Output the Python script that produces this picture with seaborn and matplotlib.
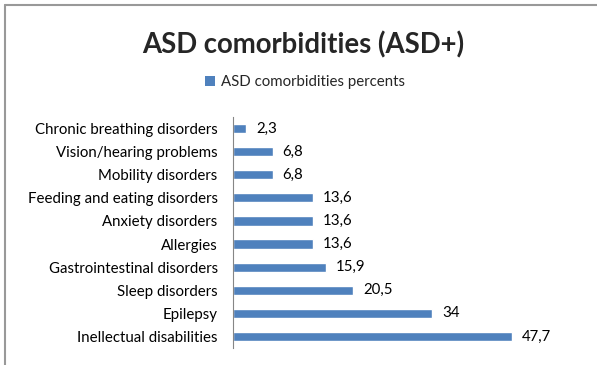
import matplotlib
matplotlib.use("Agg")
import matplotlib.pyplot as plt
import seaborn as sns
import pandas as pd
from matplotlib.lines import Line2D
from matplotlib.patches import Patch

categories = ["Chronic breathing disorders", "Vision/hearing problems", "Mobility disorders",
              "Feeding and eating disorders", "Anxiety disorders", "Allergies",
              "Gastrointestinal disorders", "Sleep disorders", "Epilepsy",
              "Inellectual disabilities"]
values = [2.3, 6.8, 6.8, 13.6, 13.6, 13.6, 15.9, 20.5, 34, 47.7]
value_labels = ["2,3", "6,8", "6,8", "13,6", "13,6", "13,6", "15,9", "20,5", "34", "47,7"]
series_name = "ASD comorbidities percents"
title = "ASD comorbidities (ASD+)"

sns.set_style("white")
plt.rcParams['font.family'] = ['Lato', 'DejaVu Sans']

df = pd.DataFrame({"cat": categories, "val": values})

fig = plt.figure(figsize=(5.97, 3.65), dpi=100)
ax = fig.add_axes([233/597, 1-348/365, (584-233)/597, (348-117)/365])
color = "#4F81BD"
sns.barplot(data=df, y="cat", x="val", orient="h", color=color, width=0.4,
            ax=ax, saturation=1)
ax.set_xlim(0, 60)
ax.set_ylim(len(categories)-0.5, -0.5)
ax.set_xlabel("")
ax.set_ylabel("")
ax.set_xticks([])
for s in ["top", "right", "bottom"]:
    ax.spines[s].set_visible(False)
ax.spines["left"].set_color("#868686")
ax.spines["left"].set_linewidth(0.8)
ax.tick_params(axis="y", length=0, pad=11, labelsize=10.85, labelcolor="#000000")

for p, lab in zip(ax.patches, value_labels):
    w = p.get_width()
    y = p.get_y() + p.get_height()/2
    ax.text(w + 1.7, y, lab, va="center", ha="left", fontsize=10.85, color="#000000")

fig.text(303/597, 1-45/365, title, ha="center", va="center", fontsize=19.8, fontweight="bold")
fig.legend(handles=[Patch(facecolor=color, edgecolor="none", label=series_name)],
           loc="center", bbox_to_anchor=(305/597, 1-82/365), frameon=False,
           fontsize=10.8, handlelength=0.7, handleheight=0.7, handletextpad=0.4)

# outer border
fig.add_artist(Line2D([5/597, 1], [1-5/365, 1-5/365], color="#999999", lw=1.5))
fig.add_artist(Line2D([5/597, 5/597], [0, 1-5/365], color="#999999", lw=1.5))

fig.savefig("out.png", dpi=100, facecolor="white")
